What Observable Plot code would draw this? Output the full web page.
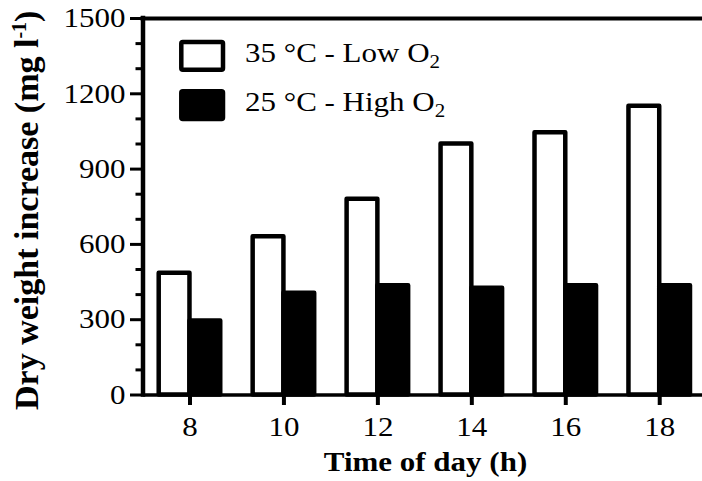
<!DOCTYPE html>
<html>
<head>
<meta charset="utf-8">
<script src="https://cdn.jsdelivr.net/npm/d3@7"></script>
<script src="https://cdn.jsdelivr.net/npm/@observablehq/plot@0.6"></script>
<style>
  html, body { margin: 0; padding: 0; background: #fff; overflow: hidden; }
  #chart svg { display: block; overflow: hidden; }
</style>
</head>
<body>
<div id="chart"></div>
<script>
// ---- data ----
const hours = [8, 10, 12, 14, 16, 18];
const lowO2 = [485, 630, 780, 1000, 1045, 1150];   // 35 °C - Low O2 (white bars)
const highO2 = [295, 405, 435, 425, 435, 435];     // 25 °C - High O2 (black bars)
const seriesLabels = ["35 °C - Low O", "25 °C - High O"]; // followed by subscript "2"
const seriesSub = "2";
const seriesFills = ["white", "black"];
const yMajorTicks = [0, 300, 600, 900, 1200, 1500];
const yMinorTicks = [100, 200, 400, 500, 700, 800, 1000, 1100, 1300, 1400];
const xDomain = [7, 19];
const yDomain = [0, 1500];
const xTitle = "Time of day (h)";
const yTitleMain = "Dry weight increase (mg l";
const yTitleSup = "-1";
const yTitleEnd = ")";

// ---- layout / style ----
const W = 702, H = 481;
const mL = 142.5, mT = 18, mB = 86.5;
const barW = 0.655;
const squish = 0.88;
const font = "'Liberation Serif', 'Times New Roman', serif";

const rows = hours.map((h, i) => ({hour: h, low: lowO2[i], high: highO2[i]}));

const chart = Plot.plot({
  width: W,
  height: H,
  marginLeft: mL,
  marginRight: 0,
  marginTop: mT,
  marginBottom: mB,
  x: {domain: xDomain, range: [142.5, 706.2]},
  y: {domain: yDomain, range: [394.5, 18]},
  style: {fontFamily: font, fontSize: "31px", color: "black", background: "white"},
  marks: [
    Plot.rect(rows, {
      x1: d => d.hour - barW, x2: d => d.hour, y1: d => 0, y2: "low",
      fill: seriesFills[0], stroke: "black", strokeWidth: 4.5, strokeLinejoin: "round"
    }),
    Plot.rect(rows, {
      x1: d => d.hour, x2: d => d.hour + barW, y1: d => 0, y2: "high",
      fill: seriesFills[1], stroke: "black", strokeWidth: 4.5, strokeLinejoin: "round"
    }),
    Plot.ruleY([yDomain[1]], {x1: xDomain[0], x2: xDomain[1], stroke: "black", strokeWidth: 4, strokeLinecap: "square"}),
    Plot.ruleY([yDomain[0]], {x1: xDomain[0], x2: xDomain[1], stroke: "black", strokeWidth: 3.5}),
    Plot.ruleX([xDomain[0]], {y1: yDomain[0], y2: yDomain[1], stroke: "black", strokeWidth: 4.5, strokeLinecap: "square"}),
    Plot.axisY({ticks: yMajorTicks, tickSize: 12.5, tickPadding: 5, strokeWidth: 3,
      fontSize: 31, label: null, tickFormat: d => String(d), stroke: "black", fill: "black"}),
    Plot.axisY({ticks: yMinorTicks, tickSize: 7, strokeWidth: 3, label: null,
      tickFormat: () => "", stroke: "black", fill: "none"}),
    Plot.axisX({ticks: hours, tickSize: 10.5, tickPadding: 10.7, strokeWidth: 4,
      fontSize: 31, label: null, tickFormat: d => String(d), stroke: "black", fill: "black"}),
    Plot.text([xTitle], {frameAnchor: "bottom", text: d => d, dx: 2.75, dy: 76.2,
      lineAnchor: "bottom", fontSize: 31, fontWeight: "bold", fill: "black"}),
    Plot.text([yTitleMain], {frameAnchor: "left", text: d => d, rotate: -90, dx: 37 - mL, dy: 3.5,
      lineAnchor: "bottom", textAnchor: "middle", fontSize: 34, fontWeight: "bold", fill: "black"})
  ]
});

document.getElementById("chart").appendChild(chart);
const svg = d3.select(chart.tagName === "svg" ? chart : chart.querySelector("svg"));

// superscript in the y title
svg.selectAll("text").filter(function() { return this.textContent === yTitleMain; }).each(function() {
  const t = d3.select(this);
  t.text(yTitleMain);
  t.append("tspan").attr("font-size", 20).attr("dy", -12).text(yTitleSup);
  t.append("tspan").attr("dy", 12).text(yTitleEnd);
});

// legend
const lg = svg.append("g").attr("class", "legend").attr("text-anchor", "start");
const boxX = 181.3, boxW = 41.7, boxH = 27.7, boxYs = [42, 91.3];
const textX = 245, baseYs = [62, 111];
seriesLabels.forEach((lab, i) => {
  lg.append("rect")
    .attr("x", boxX).attr("y", boxYs[i]).attr("width", boxW).attr("height", boxH)
    .attr("rx", 1.5)
    .attr("fill", seriesFills[i]).attr("stroke", "black").attr("stroke-width", 4.5)
    .attr("stroke-linejoin", "round");
  const t = lg.append("text")
    .attr("transform", `translate(${textX},${baseYs[i]})`)
    .attr("text-anchor", "start")
    .attr("font-family", font).attr("font-size", 31).attr("fill", "black")
    .text(lab);
  t.append("tspan").attr("font-size", 21).attr("dy", 7).text(seriesSub);
});

// vertical compression of horizontal text, as in the reference
svg.selectAll("text").each(function() {
  let tr = this.getAttribute("transform") || "";
  if (/rotate/.test(tr)) return;
  const x = this.getAttribute("x"), y = this.getAttribute("y");
  let tx = 0, ty = 0;
  if (x && !/em$/.test(x)) { tx = +x; this.removeAttribute("x"); }
  if (y && !/em$/.test(y)) { ty = +y; this.removeAttribute("y"); }
  if (tx || ty) tr = `translate(${tx},${ty}) ` + tr;
  this.setAttribute("transform", tr + ` scale(1,${squish})`);
});
</script>
</body>
</html>
